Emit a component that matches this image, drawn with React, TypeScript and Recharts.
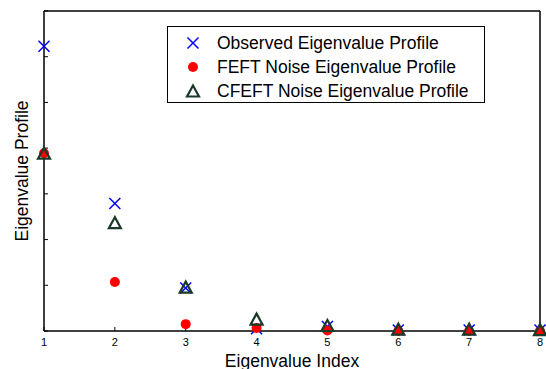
import React from 'react';
import { ScatterChart, Scatter, XAxis, YAxis, Legend } from 'recharts';

const indices = [1, 2, 3, 4, 5, 6, 7, 8];
const observed = [6.23, 2.79, 0.94, 0.05, 0.1, 0.02, 0.02, 0.02];
const feft = [3.89, 1.07, 0.15, 0.065, 0.01, 0.0, 0.0, 0.0];
const cfeft = [3.89, 2.37, 0.96, 0.26, 0.12, 0.04, 0.04, 0.03];
const xTicks = [1, 2, 3, 4, 5, 6, 7, 8];
const yTicks = [0, 1, 2, 3, 4, 5, 6, 7];
const seriesNames = [
  'Observed Eigenvalue Profile',
  'FEFT Noise Eigenvalue Profile',
  'CFEFT Noise Eigenvalue Profile',
];

const toPoints = (vals: number[]) => indices.map((x, i) => ({ x, y: vals[i] }));

const BLUE = '#0000FF';
const RED = '#FF0000';
const GREEN = '#1A3A2A';

const Cross = (props: any) => {
  const { cx, cy } = props;
  const s = 5.5;
  return (
    <g>
      <line x1={cx - s} y1={cy - s} x2={cx + s} y2={cy + s} stroke={BLUE} strokeWidth={1.5} />
      <line x1={cx - s} y1={cy + s} x2={cx + s} y2={cy - s} stroke={BLUE} strokeWidth={1.5} />
    </g>
  );
};

const Dot = (props: any) => {
  const { cx, cy } = props;
  return <circle cx={cx} cy={cy} r={5} fill={RED} />;
};

const Tri = (props: any) => {
  const { cx, cy } = props;
  const w = 6, h = 5.5;
  return (
    <polygon
      points={`${cx},${cy - h} ${cx - w},${cy + h} ${cx + w},${cy + h}`}
      fill="none"
      stroke={GREEN}
      strokeWidth={2.2}
      strokeLinejoin="miter"
    />
  );
};

const legendIcons = [
  (x: number, y: number) => <Cross cx={x} cy={y} />,
  (x: number, y: number) => <Dot cx={x} cy={y} />,
  (x: number, y: number) => <Tri cx={x} cy={y} />,
];

const fontFam = '"Liberation Sans", Arial, sans-serif';

const LegendBox = () => (
  <div
    style={{
      width: 318,
      height: 77,
      border: '1px solid #000',
      background: '#fff',
      fontFamily: fontFam,
      fontSize: 17.5,
      boxSizing: 'border-box',
      position: 'relative',
    }}
  >
    {seriesNames.map((n, i) => (
      <div key={n} style={{ position: 'absolute', left: 0, top: 6 + i * 24, height: 20, display: 'flex', alignItems: 'center' }}>
        <svg width={49} height={20} style={{ display: 'block' }}>
          {legendIcons[i](25, 10)}
        </svg>
        <span style={{ color: '#000', whiteSpace: 'nowrap', lineHeight: '20px' }}>{n}</span>
      </div>
    ))}
  </div>
);

export default function App() {
  return (
    <div style={{ position: 'absolute', left: 0, top: 0, background: '#fff' }}>
      <ScatterChart width={546} height={369} margin={{ top: 10, right: 5, left: 0, bottom: 0 }}>
        <XAxis
          xAxisId="b"
          dataKey="x"
          type="number"
          domain={[1, 8]}
          ticks={xTicks}
          height={38}
          tickSize={-4}
          tickMargin={11.5}
          stroke="#000"
          tick={{ fill: '#000', fontSize: 11, fontFamily: fontFam }}
          axisLine={{ stroke: '#000', strokeWidth: 1.5 }}
          tickLine={{ stroke: '#000' }}
          label={{ value: 'Eigenvalue Index', position: 'insideBottom', offset: 2.5, style: { fill: '#000', fontSize: 17.5, fontFamily: fontFam } }}
        />
        <XAxis
          xAxisId="t"
          orientation="top"
          dataKey="x"
          type="number"
          domain={[1, 8]}
          ticks={xTicks}
          height={1}
          tickSize={-4}
          tickFormatter={() => ''}
          axisLine={{ stroke: '#000', strokeWidth: 1.5 }}
          tickLine={{ stroke: '#000' }}
        />
        <YAxis
          yAxisId="l"
          dataKey="y"
          type="number"
          domain={[0, 7]}
          ticks={yTicks}
          width={44}
          tickSize={-4}
          tickFormatter={() => ''}
          axisLine={{ stroke: '#000', strokeWidth: 1.5 }}
          tickLine={{ stroke: '#000' }}
          label={{ value: 'Eigenvalue Profile', angle: -90, position: 'insideLeft', offset: 22, style: { textAnchor: 'middle', fill: '#000', fontSize: 17.5, fontFamily: fontFam } }}
        />
        <YAxis
          yAxisId="r"
          orientation="right"
          dataKey="y"
          type="number"
          domain={[0, 7]}
          ticks={yTicks}
          width={1}
          tickSize={-4}
          tickFormatter={() => ''}
          axisLine={{ stroke: '#000', strokeWidth: 1.5 }}
          tickLine={{ stroke: '#000' }}
        />
        <Legend
          layout="vertical"
          align="center"
          verticalAlign="middle"
          content={() => <LegendBox />}
          wrapperStyle={{ position: 'absolute', left: 167, top: 26, width: 318, height: 77 }}
        />
        <Scatter xAxisId="b" yAxisId="l" name={seriesNames[0]} data={toPoints(observed)} shape={Cross} isAnimationActive={false} />
        <Scatter xAxisId="b" yAxisId="l" name={seriesNames[1]} data={toPoints(feft)} shape={Dot} isAnimationActive={false} />
        <Scatter xAxisId="b" yAxisId="l" name={seriesNames[2]} data={toPoints(cfeft)} shape={Tri} isAnimationActive={false} />
      </ScatterChart>
    </div>
  );
}
